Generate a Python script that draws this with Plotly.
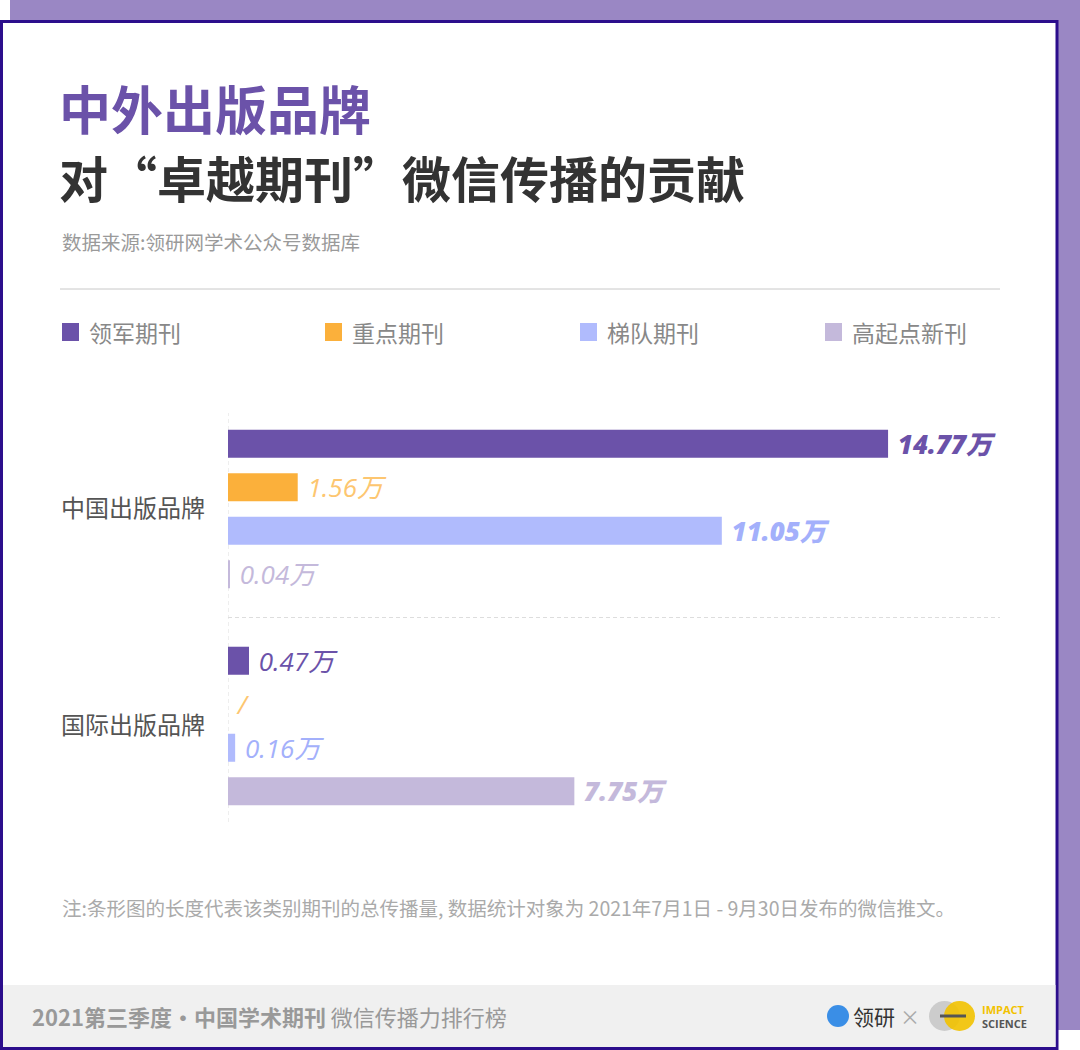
import plotly.graph_objects as go

# 数据
brands = ["中国出版品牌", "国际出版品牌"]
series = ["领军期刊", "重点期刊", "梯队期刊", "高起点新刊"]
values = [
    [14.77, 0.47],
    [1.56, None],
    [11.05, 0.16],
    [0.04, 7.75],
]
bar_colors = ["#6b52a9", "#fbb03b", "#b0bbfd", "#c4b9db"]
label_colors = ["#6b52a9", "#fdc670", "#a3b0fb", "#c4b9db"]
label_bold = [[True, False], [False, False], [True, False], [False, True]]

FONT = "Noto Sans CJK SC"
NUM_FONT = "Open Sans, Noto Sans CJK SC"
W, H = 1080, 1050
L, R, T, B = 228, 1000, 413, 822
legend_x = [62, 325, 580, 825]


def px(x):
    return (x - L) / (R - L)


def py(y):
    return (B - y) / (B - T)


fig = go.Figure()
for i, name in enumerate(series):
    xs = [v if v is not None else 0 for v in values[i]]
    txt = [" %.2f万" % v if v is not None else " /" for v in values[i]]
    fig.add_trace(go.Bar(
        y=brands, x=xs, name=name, orientation="h", showlegend=False,
        marker=dict(color=bar_colors[i], line=dict(width=0)),
        text=txt, textposition="outside", cliponaxis=False, constraintext="none",
        textfont=dict(family=NUM_FONT, size=26, color=label_colors[i], style="italic",
                      weight=[800 if b else "normal" for b in label_bold[i]]),
    ))

shapes = [
    # 紫色阴影
    dict(type="rect", xref="paper", yref="paper", x0=px(10), x1=px(1080), y0=py(0), y1=py(1030),
         fillcolor="#9a87c4", line=dict(width=0), layer="below"),
    # 卡片
    dict(type="rect", xref="paper", yref="paper", x0=px(1.5), x1=px(1057), y0=py(21.5), y1=py(1048.5),
         fillcolor="white", line=dict(color="#2c0e8c", width=3), layer="below"),
    # 底栏
    dict(type="rect", xref="paper", yref="paper", x0=px(3), x1=px(1055.5), y0=py(985), y1=py(1047),
         fillcolor="#f0f0f0", line=dict(width=0), layer="below"),
    # 分隔线
    dict(type="line", xref="paper", yref="paper", x0=px(60), x1=px(1000), y0=py(289), y1=py(289),
         line=dict(color="#c8c8c8", width=1)),
    dict(type="line", xref="x", yref="paper", x0=0, x1=0, y0=0, y1=1,
         line=dict(color="#dddddd", width=1, dash="4px,3px"), layer="below"),
    dict(type="line", xref="paper", yref="y", x0=0, x1=1, y0=0.5, y1=0.5,
         line=dict(color="#dddddd", width=1, dash="4px,3px"), layer="below"),
    # logo
    dict(type="circle", xref="paper", yref="paper", x0=px(827), x1=px(849), y0=py(1005), y1=py(1027),
         fillcolor="#3a8ee6", line=dict(width=0)),
    dict(type="circle", xref="paper", yref="paper", x0=px(929), x1=px(960), y0=py(1001), y1=py(1031),
         fillcolor="#cccccc", line=dict(width=0)),
    dict(type="circle", xref="paper", yref="paper", x0=px(944), x1=px(975), y0=py(1001), y1=py(1031),
         fillcolor="#f2c200", line=dict(width=0), opacity=0.9),
    dict(type="line", xref="paper", yref="paper", x0=px(940), x1=px(966), y0=py(1016), y1=py(1016),
         line=dict(color="#555555", width=3)),
]

annotations = [
    dict(text="<b><span style='color:#6b52a9'>中外出版品牌</span><br>"
              "<span style='font-size:49px'>对“卓越期刊”微信传播的贡献</span></b>",
         x=px(57), y=py(141), align="left", font=dict(family=FONT, size=52, color="#333333")),
    dict(text="数据来源:领研网学术公众号数据库", x=px(60), y=py(241), font=dict(family=FONT, size=19.5, color="#9a9a9a")),
    dict(text="注:条形图的长度代表该类别期刊的总传播量, 数据统计对象为 2021年7月1日 - 9月30日发布的微信推文。",
         x=px(60), y=py(907), font=dict(family=FONT, size=19.5, color="#aaaaaa")),
    dict(text="<b>2021第三季度·中国学术期刊</b> 微信传播力排行榜", x=px(30), y=py(1016),
         font=dict(family=FONT, size=22, color="#999999")),
    dict(text="领研", x=px(851), y=py(1016), font=dict(family=FONT, size=21, color="#333333")),
    dict(text="×", x=px(898), y=py(1016), font=dict(family=FONT, size=20, color="#aaaaaa")),
    dict(text="<b>IMPACT</b>", x=px(980), y=py(1009), font=dict(family="Open Sans", size=11, color="#f2c200")),
    dict(text="<b>SCIENCE</b>", x=px(980), y=py(1023), font=dict(family="Open Sans", size=11, color="#555555")),
]

# 图例
for i, name in enumerate(series):
    x0 = legend_x[i]
    shapes.append(dict(type="rect", xref="paper", yref="paper", x0=px(x0), x1=px(x0 + 17),
                       y0=py(323), y1=py(341), fillcolor=bar_colors[i], line=dict(width=0)))
    annotations.append(dict(text=name, x=px(x0 + 25), y=py(332),
                            font=dict(family=FONT, size=23, color="#888888")))

for a in annotations:
    a.update(xref="paper", yref="paper", xanchor="left", yanchor="middle", showarrow=False)

fig.update_layout(
    width=W, height=H,
    margin=dict(l=L, r=W - R, t=T, b=H - B, pad=0),
    paper_bgcolor="white", plot_bgcolor="rgba(0,0,0,0)",
    barmode="group", bargap=0.198, bargroupgap=0.356,
    showlegend=False,
    xaxis=dict(range=[0, (R - L) / 44.69], visible=False),
    yaxis=dict(range=[1.4424, -0.4424], showgrid=False, zeroline=False, showline=False,
               ticks="", ticklabelstandoff=22,
               tickfont=dict(family=FONT, size=24, color="#555555")),
    shapes=shapes, annotations=annotations,
    font=dict(family=FONT),
)

fig.write_html("out.html", config={"displayModeBar": False},
               post_script="document.body.style.margin='0';")
